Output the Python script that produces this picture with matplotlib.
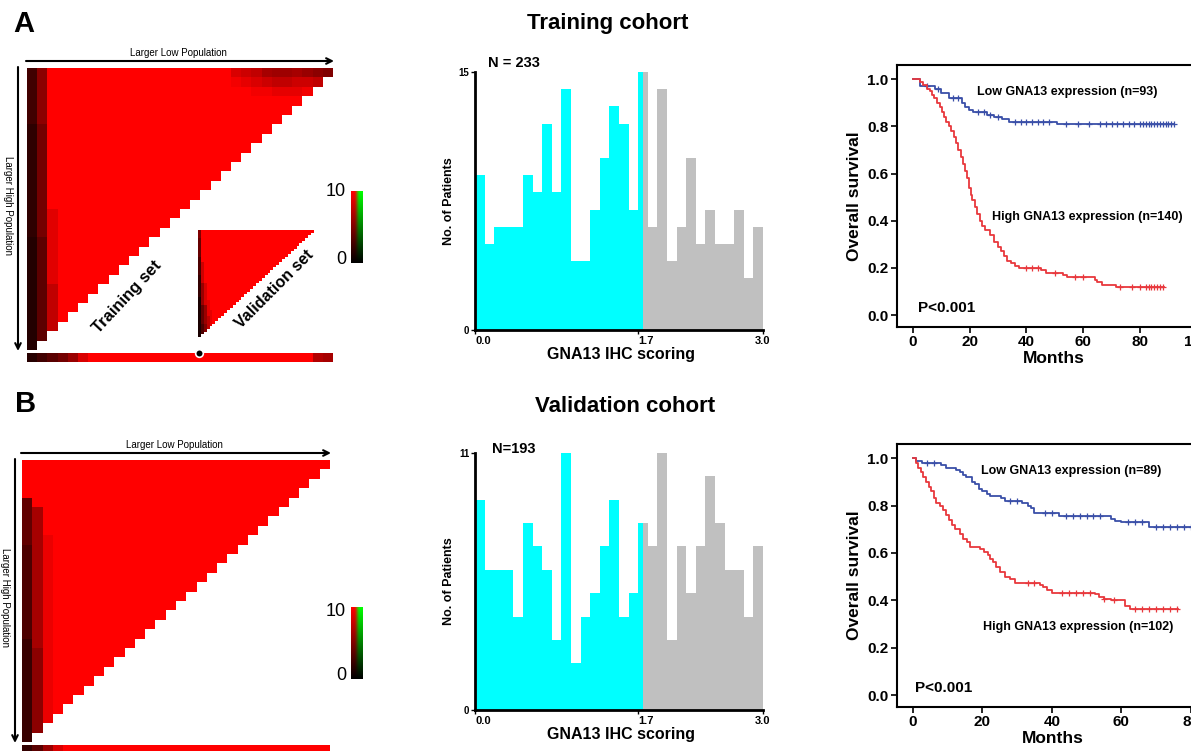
import numpy as np
import matplotlib
matplotlib.use('Agg')
import matplotlib.pyplot as plt
from matplotlib.colors import LinearSegmentedColormap

plt.rcParams['font.family'] = ['Liberation Sans', 'DejaVu Sans']

W, H = 1191, 751

# ---------------- histogram data (patients per 0.1 score bin) ----------------
hist_edges = np.linspace(0, 3.0, 31)
train_counts = [9, 5, 6, 6, 6, 9, 8, 12, 8, 14, 4, 4, 7, 10, 13, 12, 7, 15,
                6, 14, 4, 6, 10, 5, 7, 5, 5, 7, 3, 6]
valid_counts = [9, 6, 6, 6, 4, 8, 7, 6, 3, 11, 2, 4, 5, 7, 9, 4, 5, 8,
                7, 11, 3, 7, 5, 7, 10, 8, 6, 6, 4, 7]
cutoff = 1.75

# ---------------- Kaplan-Meier curves (time, survival after step) ----------------
km_a_low_t = [0, 2.6, 7.9, 10, 12.6, 17.3, 18.5, 19.6, 21, 26, 28.5, 31.4, 33.8, 50.8]
km_a_low_s = [1.0, 0.97, 0.96, 0.94, 0.92, 0.90, 0.88, 0.87, 0.86, 0.85, 0.84, 0.83, 0.82, 0.81]
km_a_low_end = 92
km_a_low_cens = [5, 9, 14, 16, 23, 25, 27, 30, 36, 38, 40, 42, 44, 46, 48, 54, 58, 62, 66,
                 68, 70, 72, 74, 76, 78, 80, 81, 82, 83, 84, 85, 86, 87, 88, 89, 90, 91, 92]

km_a_high_t = [0, 2.5, 3.5, 5, 6, 6.8, 7.5, 8.5, 9.5, 10.2, 11, 11.8, 12.6, 13.5, 14.5, 15.2,
               16, 16.8, 17.6, 18.5, 19, 19.6, 20.3, 20.9, 21.7, 22.6, 23.5, 24.4, 25.5, 27,
               28.5, 30, 31, 32.2, 33.2, 34.5, 36, 37.3, 45, 47, 53, 54.4, 64, 65, 66.5, 71.4]
km_a_high_s = [1.0, 0.99, 0.975, 0.96, 0.95, 0.935, 0.92, 0.90, 0.88, 0.86, 0.84, 0.82, 0.80,
               0.78, 0.755, 0.73, 0.70, 0.67, 0.64, 0.61, 0.58, 0.54, 0.51, 0.49, 0.46, 0.43,
               0.40, 0.38, 0.36, 0.34, 0.31, 0.29, 0.27, 0.25, 0.23, 0.22, 0.21, 0.20, 0.19,
               0.18, 0.17, 0.16, 0.15, 0.14, 0.13, 0.12]
km_a_high_end = 88.5
km_a_high_cens = [40, 42, 44, 50, 57, 60, 73, 77, 80, 82, 83, 84, 85, 86, 87, 88]

km_b_low_t = [0, 1, 2.6, 8, 9.5, 12.5, 13.5, 14.3, 15.3, 17, 18, 19, 20, 21.3, 22.3, 25.5,
              26.5, 31.5, 33, 34, 35, 42, 57, 58.2, 60, 68]
km_b_low_s = [1.0, 0.99, 0.98, 0.97, 0.96, 0.95, 0.94, 0.93, 0.92, 0.90, 0.89, 0.87, 0.86,
              0.85, 0.84, 0.83, 0.82, 0.81, 0.80, 0.79, 0.77, 0.755, 0.745, 0.735, 0.73, 0.71]
km_b_low_end = 80.5
km_b_low_cens = [4, 6, 28, 30, 38, 40, 44, 46, 48, 50, 52, 54, 62, 64, 66, 70, 72, 74, 76, 78, 80]

km_b_high_t = [0, 0.8, 1.5, 2.3, 3, 3.8, 4.6, 5.3, 6, 6.6, 7.7, 8.6, 9.5, 10.5, 11.2, 12, 13.5,
               14.5, 15.5, 16.5, 19.4, 20.5, 21.5, 22.3, 23.2, 24, 25, 26.5, 28, 29.5, 36.7,
               37.5, 38.7, 40, 52.5, 53.5, 55, 57, 61, 62.5]
km_b_high_s = [1.0, 0.98, 0.96, 0.94, 0.92, 0.90, 0.88, 0.86, 0.83, 0.81, 0.80, 0.78, 0.76,
               0.74, 0.72, 0.70, 0.68, 0.66, 0.645, 0.627, 0.615, 0.605, 0.59, 0.575, 0.56,
               0.54, 0.52, 0.50, 0.49, 0.475, 0.465, 0.455, 0.445, 0.432, 0.425, 0.415, 0.405,
               0.40, 0.375, 0.365]
km_b_high_end = 76.5
km_b_high_cens = [33, 35, 43, 45, 47, 49, 51, 55, 58, 64, 66, 68, 70, 72, 74, 76]

# ---------------- X-tile heat maps (value 0-10 per cell) ----------------
n_a = 30
hmA_cols = [[2.6] * 6 + [1.8] * 12 + [1.4] * 12,
            [5.5] * 6 + [4.5] * 12 + [3.6] * 12,
            [10] * 15 + [8.8] * 8 + [7.5] * 7]
hmA_rows = [(0, 20, [8.5, 8, 7.5, 6.5, 6.2, 6.2, 6.5, 6, 5.5, 5]),
            (1, 20, [9.5, 9, 8.5, 8, 7.5, 7.5, 8, 8, 7.5]),
            (2, 22, [9.5, 9.5, 9, 9, 9, 9.5])]
stripA = [1.5, 2.5, 3.5, 4.5, 6, 8.5] + [10] * 22 + [7, 6.5]
stripA_cut = 16.4

n_v = 40
inset_cols = [[5, 5, 5, 4, 4, 4, 4, 4, 4, 4, 3, 3, 3, 3, 3, 3, 3, 2, 2, 2,
               2, 2, 2, 2, 2, 1, 1, 1, 1, 1, 1, 1, 1, 1, 1, 1, 1, 1, 1, 1],
              [10] * 12 + [8] * 8 + [6] * 8 + [4] * 7 + [3] * 5,
              [10] * 20 + [8.5] * 8 + [6] * 7 + [5] * 5,
              [10] * 26 + [9] * 6 + [7.5] * 8,
              [10] * 30 + [9] * 10]

n_b = 30
hmB_cols = [[10] * 4 + [3.8] * 5 + [3] * 10 + [2.2] * 11,
            [10] * 5 + [6.5] * 15 + [5.5] * 10,
            [10] * 8 + [9.2] * 22]
stripB = [2, 3.5, 6, 8.5] + [10] * 26


def box(x0, y0, x1, y1):
    return [x0 / W, 1 - y1 / H, (x1 - x0) / W, (y1 - y0) / H]


def tri_matrix(n, cols, rows=()):
    m = np.full((n, n), 10.0)
    for j, c in enumerate(cols):
        m[:, j] = c
    for i, start, vals in rows:
        m[i, start:start + len(vals)] = vals
    ii, jj = np.indices((n, n))
    m[ii + jj >= n] = np.nan
    return m


kr = LinearSegmentedColormap.from_list('kr', ['#000000', '#ff0000'])
kr.set_bad('white')
kg = LinearSegmentedColormap.from_list('kg', ['#000000', '#00ff00'])

fig = plt.figure(figsize=(W / 100, H / 100), dpi=100)


def heat(rect, m):
    ax = fig.add_axes(rect)
    ax.imshow(m, cmap=kr, vmin=0, vmax=10, aspect='auto', interpolation='nearest')
    ax.axis('off')
    return ax


def cbar(rect):
    ax = fig.add_axes(rect)
    v = np.linspace(1, 0, 100)
    img = np.stack([kr(v)[:, :3], kg(v)[:, :3]], axis=1)
    ax.imshow(img, aspect='auto')
    ax.axis('off')


heat(box(27, 68, 333, 350), tri_matrix(n_a, hmA_cols, hmA_rows))
heat(box(198, 230, 313, 337), tri_matrix(n_v, inset_cols))
sa = heat(box(27, 353, 333, 362), np.array([stripA]))
sa.plot(stripA_cut, -0.5, 'o', ms=5.5, mfc='k', mec='white', mew=1.2, clip_on=False)
heat(box(22, 460, 330, 742), tri_matrix(n_b, hmB_cols))
heat(box(22, 745, 330, 754), np.array([stripB]))
cbar(box(351, 191, 363, 263))
cbar(box(351, 607, 363, 679))


def histo(rect, counts, ymax):
    ax = fig.add_axes(rect)
    for lo, hi, c in zip(hist_edges[:-1], hist_edges[1:], counts):
        if hi <= cutoff:
            ax.bar(lo, c, width=hi - lo, align='edge', color='#00ffff', lw=0)
        elif lo >= cutoff:
            ax.bar(lo, c, width=hi - lo, align='edge', color='#c0c0c0', lw=0)
        else:
            ax.bar(lo, c, width=cutoff - lo, align='edge', color='#00ffff', lw=0)
            ax.bar(cutoff, c, width=hi - cutoff, align='edge', color='#c0c0c0', lw=0)
    ax.set_xlim(0, 3.0)
    ax.set_ylim(0, ymax)
    for s in ['top', 'right']:
        ax.spines[s].set_visible(False)
    for s in ['left', 'bottom']:
        ax.spines[s].set_linewidth(2)
    ax.set_yticks([0, ymax])
    ax.set_yticklabels(['0', str(ymax)], fontsize=7, fontweight='bold')
    ax.set_xticks([0, 1.7, 3.0])
    labs = ax.set_xticklabels(['0.0', '1.7', '3.0'], fontsize=8, fontweight='bold')
    labs[0].set_ha('left')
    labs[1].set_ha('left')
    labs[2].set_ha('center')
    ax.tick_params(length=3, width=1, pad=1)
    return ax


histo(box(475, 72, 763, 330), train_counts, 15)
histo(box(475, 453, 763, 710), valid_counts, 11)


def km(ax, t, s, end, cens, color):
    tt = list(t) + [end]
    ss = list(s) + [s[-1]]
    ax.step(tt, ss, where='post', color=color, lw=1.3)
    idx = np.searchsorted(t, cens, side='right') - 1
    ax.plot(cens, np.array(s)[idx], '+', color=color, ms=4, mew=0.9)


def surv(rect, xlim, xticks):
    ax = fig.add_axes(rect)
    ax.set_xlim(*xlim)
    ax.set_ylim(-0.05, 1.06)
    ax.set_xticks(xticks)
    ax.set_yticks([0, 0.2, 0.4, 0.6, 0.8, 1.0])
    ax.set_yticklabels(['0.0', '0.2', '0.4', '0.6', '0.8', '1.0'])
    for lab in ax.get_xticklabels() + ax.get_yticklabels():
        lab.set_fontweight('bold')
        lab.set_fontsize(11)
    for s in ax.spines.values():
        s.set_linewidth(1.5)
    ax.tick_params(length=4, width=1.2, pad=2)
    ax.set_xlabel('Months', fontsize=12.5, fontweight='bold', labelpad=1)
    ax.set_ylabel('Overall survival', fontsize=12.5, fontweight='bold', labelpad=4)
    return ax


blue = '#3a4fa8'
red = '#e8383d'

axA = surv(box(897, 65, 1211, 327), (-5.6, 105), [0, 20, 40, 60, 80, 100])
km(axA, km_a_low_t, km_a_low_s, km_a_low_end, km_a_low_cens, blue)
km(axA, km_a_high_t, km_a_high_s, km_a_high_end, km_a_high_cens, red)
axA.text(22.5, 0.945, 'Low GNA13 expression (n=93)', fontsize=9, fontweight='bold', va='center')
axA.text(27.9, 0.415, 'High GNA13 expression (n=140)', fontsize=9, fontweight='bold', va='center')
axA.text(1.8, 0.03, 'P<0.001', fontsize=11, fontweight='bold', va='center')

axB = surv(box(897, 444, 1208, 707), (-4.6, 85), [0, 20, 40, 60, 80])
km(axB, km_b_low_t, km_b_low_s, km_b_low_end, km_b_low_cens, blue)
km(axB, km_b_high_t, km_b_high_s, km_b_high_end, km_b_high_cens, red)
axB.text(19.6, 0.945, 'Low GNA13 expression (n=89)', fontsize=9, fontweight='bold', va='center')
axB.text(20.3, 0.287, 'High GNA13 expression (n=102)', fontsize=9, fontweight='bold', va='center')
axB.text(0.7, 0.03, 'P<0.001', fontsize=11, fontweight='bold', va='center')

# ---------------- overlay texts and arrows (pixel coordinates) ----------------
ov = fig.add_axes([0, 0, 1, 1])
ov.set_xlim(0, W)
ov.set_ylim(H, 0)
ov.axis('off')
ov.patch.set_alpha(0)

ov.text(24, 24, 'A', fontsize=21, fontweight='bold', ha='center', va='center')
ov.text(26, 404, 'B', fontsize=21, fontweight='bold', ha='center', va='center')
ov.text(608, 23, 'Training cohort', fontsize=16, fontweight='bold', ha='center', va='center')
ov.text(625, 407, 'Validation cohort', fontsize=16, fontweight='bold', ha='center', va='center')

arrow = dict(arrowstyle='->', lw=1.5, color='k', shrinkA=0, shrinkB=0, mutation_scale=10)
for (x0, x1, y), (vx, vy0, vy1), ty, vty in [((26, 334, 61), (18, 67, 351), 53, 205),
                                              ((21, 331, 453), (15, 459, 743), 445, 597)]:
    ov.annotate('', xy=(x1, y), xytext=(x0, y), arrowprops=arrow)
    ov.annotate('', xy=(vx, vy1), xytext=(vx, vy0), arrowprops=arrow)
    ov.text((x0 + x1) / 2 - 2, ty, 'Larger Low Population', fontsize=7, ha='center', va='center')
    ov.text(vx - 10, vty, 'Larger High Population', fontsize=7, ha='center', va='center',
            rotation=-90)

ov.text(127, 297, 'Training set', fontsize=12, fontweight='bold', rotation=47,
        ha='center', va='center')
ov.text(274, 289, 'Validation set', fontsize=11.5, fontweight='bold', rotation=45,
        ha='center', va='center')

for top, bot in [(192, 260), (612, 675)]:
    ov.text(346, top, '10', fontsize=13, ha='right', va='center')
    ov.text(346, bot, '0', fontsize=13, ha='right', va='center')

for ycen, ylab in [(201, 354), (581, 734)]:
    ov.text(449, ycen, 'No. of Patients', fontsize=9, fontweight='bold', rotation=90,
            ha='center', va='center')
    ov.text(621, ylab, 'GNA13 IHC scoring', fontsize=11.5, fontweight='bold',
            ha='center', va='center')
ov.text(488, 63, 'N = 233', fontsize=10.5, fontweight='bold', va='center')
ov.text(492, 449, 'N=193', fontsize=10.5, fontweight='bold', va='center')

fig.savefig('out.png', dpi=100)
